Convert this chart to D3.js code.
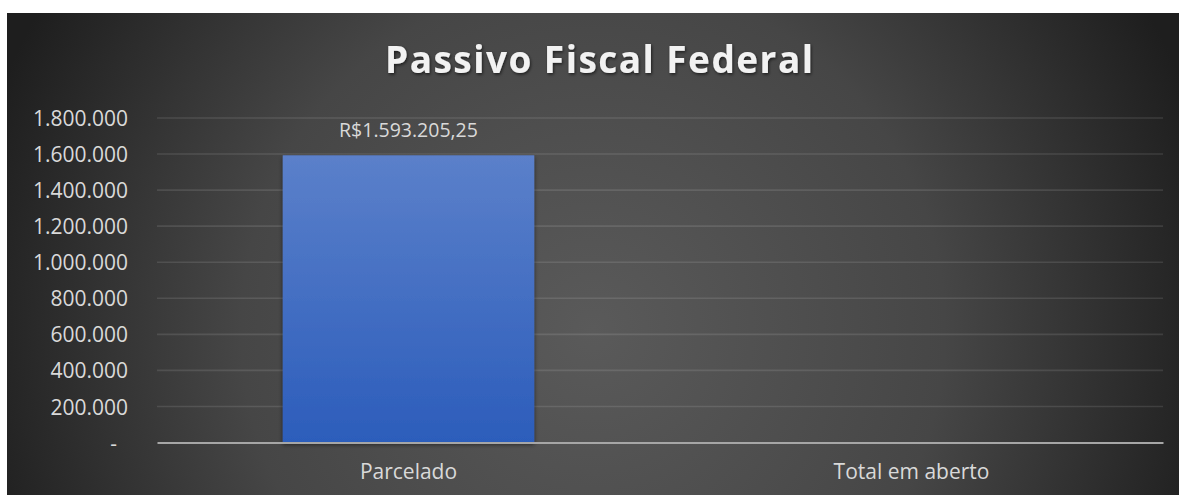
<!DOCTYPE html>
<html>
<head>
<meta charset="utf-8">
<script src="https://cdn.jsdelivr.net/npm/d3@7"></script>
<style>
  html, body { margin: 0; padding: 0; background: #ffffff; }
  svg { display: block; }
  text { font-family: "Open Sans", "Noto Sans", sans-serif; }
</style>
</head>
<body>
<div id="chart"></div>
<script>
const categories = ['Parcelado', 'Total em aberto'];
const values = [1593205.25, null];
const yTicks = [0, 200000, 400000, 600000, 800000, 1000000, 1200000, 1400000, 1600000, 1800000];
const title = 'Passivo Fiscal Federal';

const W = 1179, H = 495;
const PLOT = { left: 157, right: 1163, top: 118, bottom: 442.5 };

const svg = d3.select('#chart').append('svg')
  .attr('width', W)
  .attr('height', H);

const defs = svg.append('defs');

// dark radial background like the excel style
const bg = defs.append('radialGradient')
  .attr('id', 'bg')
  .attr('gradientUnits', 'userSpaceOnUse')
  .attr('cx', 593).attr('cy', 330).attr('r', 640);
bg.append('stop').attr('offset', '0%').attr('stop-color', '#5a5a5a');
bg.append('stop').attr('offset', '55%').attr('stop-color', '#464646');
bg.append('stop').attr('offset', '100%').attr('stop-color', '#1e1e1e');

const barGrad = defs.append('linearGradient')
  .attr('id', 'barGrad')
  .attr('x1', 0).attr('y1', 0).attr('x2', 0).attr('y2', 1);
barGrad.append('stop').attr('offset', '0%').attr('stop-color', '#5b80ca');
barGrad.append('stop').attr('offset', '100%').attr('stop-color', '#2c5dbb');

const shadow = defs.append('filter').attr('id', 'shadow')
  .attr('x', '-10%').attr('y', '-10%').attr('width', '120%').attr('height', '130%');
shadow.append('feDropShadow')
  .attr('dx', 0).attr('dy', 2).attr('stdDeviation', 2)
  .attr('flood-color', '#000').attr('flood-opacity', 0.55);

const titleShadow = defs.append('filter').attr('id', 'titleShadow')
  .attr('x', '-5%').attr('y', '-20%').attr('width', '110%').attr('height', '150%');
titleShadow.append('feDropShadow')
  .attr('dx', 1).attr('dy', 1.5).attr('stdDeviation', 1.5)
  .attr('flood-color', '#000').attr('flood-opacity', 0.6);

svg.append('rect')
  .attr('x', 7).attr('y', 13)
  .attr('width', W - 7).attr('height', H - 13)
  .attr('fill', 'url(#bg)');

// scales
const x = d3.scaleBand()
  .domain(categories)
  .range([PLOT.left, PLOT.right])
  .paddingInner(0.5)
  .paddingOuter(0.25);

const y = d3.scaleLinear()
  .domain([0, 1800000])
  .range([PLOT.bottom, PLOT.top]);

const ptBR = d3.formatLocale({ decimal: ',', thousands: '.', grouping: [3], currency: ['R$', ''] });
const fmtTick = ptBR.format(',.0f');
const fmtLabel = ptBR.format('$,.2f');

// gridlines
svg.append('g')
  .selectAll('line')
  .data(yTicks.filter(d => d > 0))
  .join('line')
    .attr('x1', PLOT.left).attr('x2', PLOT.right)
    .attr('y1', d => y(d)).attr('y2', d => y(d))
    .attr('stroke', 'rgba(255,255,255,0.11)')
    .attr('stroke-width', 1.6);

// y axis
const yAxis = svg.append('g')
  .attr('transform', 'translate(128,0)')
  .call(d3.axisLeft(y).tickValues(yTicks).tickSize(0).tickPadding(0)
    .tickFormat(d => d === 0 ? '-' : fmtTick(d)));
yAxis.select('.domain').remove();
yAxis.selectAll('text')
  .attr('fill', '#d9d9d9')
  .attr('font-size', 21)
  .attr('dy', '0.36em')
  .attr('dx', d => d === 0 ? -11 : 0);

// bars
svg.append('g')
  .selectAll('rect')
  .data(categories.map((c, i) => ({ c, v: values[i] })).filter(d => d.v != null))
  .join('rect')
    .attr('x', d => x(d.c))
    .attr('width', x.bandwidth())
    .attr('y', d => y(d.v))
    .attr('height', d => y(0) - y(d.v))
    .attr('fill', 'url(#barGrad)')
    .attr('filter', 'url(#shadow)');

// data labels
svg.append('g')
  .selectAll('text')
  .data(categories.map((c, i) => ({ c, v: values[i] })).filter(d => d.v != null))
  .join('text')
    .attr('x', d => x(d.c) + x.bandwidth() / 2)
    .attr('y', d => y(d.v) - 18)
    .attr('text-anchor', 'middle')
    .attr('fill', '#d9d9d9')
    .attr('font-size', 19.5)
    .text(d => fmtLabel(d.v));

// x axis
const xAxis = svg.append('g')
  .attr('transform', `translate(0,${PLOT.bottom})`)
  .call(d3.axisBottom(x).tickSize(0).tickPadding(0));
xAxis.select('.domain')
  .attr('stroke', '#a6a6a6')
  .attr('stroke-width', 2.2);
xAxis.selectAll('text')
  .attr('fill', '#d9d9d9')
  .attr('font-size', 21)
  .attr('dy', 0)
  .attr('y', 36);

// title, letter spacing fitted to the reference width
const t = svg.append('text')
  .attr('x', 599)
  .attr('y', 73)
  .attr('text-anchor', 'middle')
  .attr('fill', '#f2f2f2')
  .attr('font-size', 37)
  .attr('font-weight', 700)
  .attr('filter', 'url(#titleShadow)')
  .text(title);
const natural = t.node().getComputedTextLength();
const spacing = Math.max(0, (428 - natural) / (title.length - 1));
t.attr('letter-spacing', spacing + 'px')
  .attr('x', 599 + spacing / 2);
</script>
</body>
</html>
